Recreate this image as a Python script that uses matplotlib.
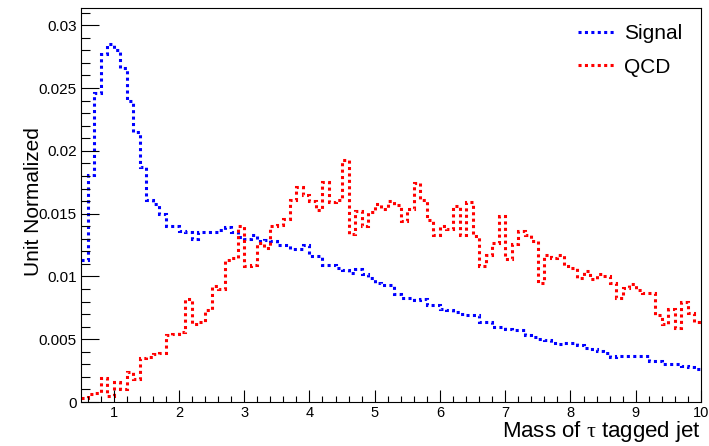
import numpy as np
import matplotlib
matplotlib.use("Agg")
import matplotlib.pyplot as plt
from matplotlib.ticker import MultipleLocator

plt.rcParams['font.family'] = 'Liberation Sans'
plt.rcParams['mathtext.fontset'] = 'custom'
plt.rcParams['mathtext.rm'] = 'Liberation Serif'

#Histogram binning: 95 bins of width 0.1 between 0.5 and 10
xLow = 0.5
xHigh = 10.0
nBins = 95

#Unit normalized bin contents
signal = [0.0113, 0.0181, 0.0246, 0.0277, 0.0285, 0.0280, 0.0266, 0.0240, 0.0215, 0.0187,
          0.0161, 0.0158, 0.0150, 0.0140, 0.0140, 0.0136, 0.0135, 0.0130, 0.0135, 0.0135,
          0.0135, 0.0137, 0.0139, 0.0135, 0.0131, 0.0130, 0.0133, 0.0128, 0.0129, 0.0128,
          0.0125, 0.0125, 0.0122, 0.0122, 0.0125, 0.0116, 0.0116, 0.0109, 0.0109,
          0.0107, 0.0105, 0.0103, 0.0106, 0.0102, 0.0099, 0.0095, 0.0093, 0.0093, 0.0086,
          0.0083, 0.0083, 0.0081, 0.0082, 0.0077, 0.0077, 0.0074, 0.0073, 0.0072,
          0.0070, 0.0069, 0.0069, 0.0064, 0.0064, 0.0060, 0.0060, 0.0058, 0.0057, 0.0057,
          0.0053, 0.0052, 0.0050, 0.0049, 0.0047, 0.0046, 0.0047, 0.0047, 0.0045,
          0.0043, 0.0042, 0.0041, 0.0039, 0.0036, 0.0037, 0.0037, 0.0037, 0.0037, 0.0037,
          0.0033, 0.0033, 0.0030, 0.0030, 0.0030, 0.0029, 0.0028, 0.0026]

qcd = [0.0003, 0.0006, 0.0007, 0.0019, 0.0005, 0.0016, 0.0010, 0.0024, 0.0018, 0.0035,
       0.0036, 0.0038, 0.0039, 0.0053, 0.0054, 0.0056, 0.0082, 0.0062, 0.0064, 0.0073,
       0.0092, 0.0090, 0.0113, 0.0115, 0.0140, 0.0108, 0.0109, 0.0127, 0.0123, 0.0140,
       0.0141, 0.0146, 0.0161, 0.0171, 0.0165, 0.0160, 0.0153, 0.0175, 0.0159,
       0.0161, 0.0193, 0.0134, 0.0152, 0.0140, 0.0151, 0.0158, 0.0154, 0.0160, 0.0157,
       0.0144, 0.0154, 0.0174, 0.0161, 0.0145, 0.0133, 0.0140, 0.0138, 0.0156,
       0.0133, 0.0159, 0.0132, 0.0108, 0.0117, 0.0127, 0.0148, 0.0114, 0.0126, 0.0136,
       0.0133, 0.0128, 0.0095, 0.0117, 0.0115, 0.0117, 0.0108, 0.0107, 0.0099,
       0.0104, 0.0098, 0.0102, 0.0100, 0.0095, 0.0083, 0.0091, 0.0094, 0.0089, 0.0087,
       0.0087, 0.0069, 0.0062, 0.0074, 0.0059, 0.0080, 0.0071, 0.0064]

edges = np.linspace(xLow, xHigh, nBins + 1)

fig = plt.figure(figsize=(7.09, 4.46), dpi=100)
ax = fig.add_axes([81/709, 1 - 402/446, 620/709, 393.7/446])

#Dotted step outlines
dots = (0, (1.0, 1.1))
ax.stairs(signal, edges, baseline=None, color='blue', lw=2.2, linestyle=dots, label='Signal')
ax.stairs(qcd, edges, baseline=None, color='red', lw=2.2, linestyle=dots, label='QCD')

ax.set_xlim(xLow, xHigh)
ax.set_ylim(0, 1.1 * max(signal))

#Frame and ticks
for sp in ax.spines.values():
    sp.set_linewidth(0.8)
ax.xaxis.set_major_locator(MultipleLocator(1))
ax.xaxis.set_minor_locator(MultipleLocator(0.2))
ax.yaxis.set_major_locator(MultipleLocator(0.005))
ax.yaxis.set_minor_locator(MultipleLocator(0.001))
ax.tick_params(which='both', direction='in', width=0.8, labelsize=11)
ax.tick_params(axis='y', which='major', length=13, pad=3)
ax.tick_params(axis='y', which='minor', length=6.5)
ax.tick_params(axis='x', which='major', length=8.5, pad=3, labelsize=10.5)
ax.tick_params(axis='x', which='minor', length=4)
ax.set_yticks([0, 0.005, 0.01, 0.015, 0.02, 0.025, 0.03])
ax.set_yticklabels(['0', '0.005', '0.01', '0.015', '0.02', '0.025', '0.03'])

#Axis titles
fig.text(701/709, 1 - 437/446, r'Mass of $\mathrm{\tau}$ tagged jet', ha='right', va='baseline', fontsize=16)
fig.text(34/709, 1 - 202/446, 'Unit Normalized', rotation=90, ha='center', va='center', fontsize=15)

leg = ax.legend(loc='upper left', bbox_to_anchor=(578/709, 1 - 24/446), bbox_transform=fig.transFigure,
                frameon=False, fontsize=15, handlelength=1.8, handletextpad=0.4,
                labelspacing=0.7, borderpad=0, borderaxespad=0)

fig.savefig('out.png', dpi=100)
